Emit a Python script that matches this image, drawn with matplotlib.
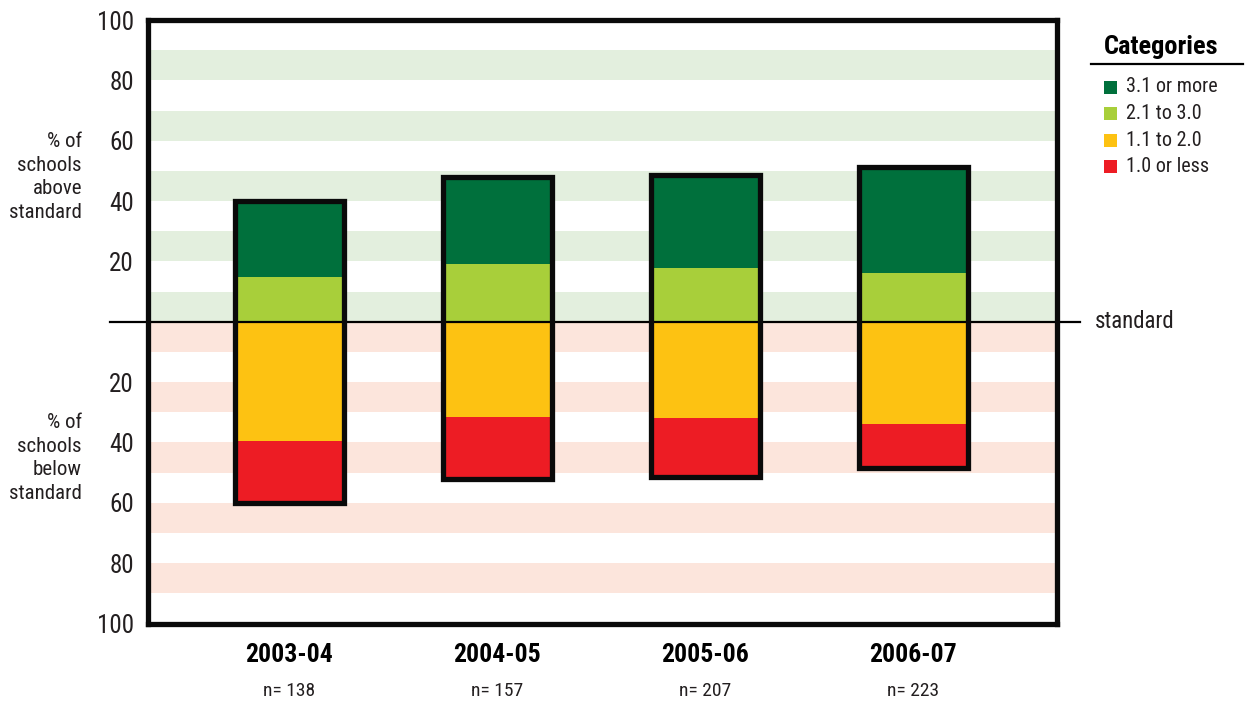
import matplotlib
matplotlib.use("Agg")
import matplotlib.pyplot as plt
from matplotlib import font_manager
from matplotlib.transforms import blended_transform_factory
from matplotlib.patches import Rectangle
import numpy as np

# --- data -------------------------------------------------------------
years = ["2003-04", "2004-05", "2005-06", "2006-07"]
n_schools = [138, 157, 207, 223]

# % of schools above standard
above_high = [25.2, 28.7, 30.9, 35.1]    # 3.1 or more
above_low = [14.8, 19.3, 17.7, 16.3]     # 2.1 to 3.0
# % of schools below standard
below_high = [39.6, 31.6, 31.9, 34.0]    # 1.1 to 2.0
below_low = [20.4, 20.4, 19.5, 14.6]     # 1.0 or less

category_labels = ["3.1 or more", "2.1 to 3.0", "1.1 to 2.0", "1.0 or less"]
category_colors = ["#00703C", "#A8CF3A", "#FDC212", "#ED1C24"]

tick_values = [100, 80, 60, 40, 20, -20, -40, -60, -80, -100]
tick_labels = ["100", "80", "60", "40", "20", "20", "40", "60", "80", "100"]

# --- fonts ------------------------------------------------------------
available = {f.name for f in font_manager.fontManager.ttflist}
family = "DejaVu Sans"
for cand in ["Liberation Sans Narrow", "Roboto Condensed", "Open Sans Condensed",
             "Roboto", "Liberation Sans"]:
    if cand in available:
        family = cand
        break
plt.rcParams["font.family"] = [family, "DejaVu Sans"]
TXT = "#231F20"

# --- figure -----------------------------------------------------------
fig = plt.figure(figsize=(12.5, 7.02), dpi=100)
ax = fig.add_axes([0.1184, 0.1118, 0.7272, 0.8597])
ax.set_xlim(-0.68, 3.69)
ax.set_ylim(-100, 100)

# background bands
for lo in range(0, 100, 20):
    ax.axhspan(lo, lo + 10, color="#E3EFDE", lw=0, zorder=0)
    ax.axhspan(-lo - 10, -lo, color="#FCE5DC", lw=0, zorder=0)

x = np.arange(len(years))
width = 0.52
ah = np.array(above_high)
al = np.array(above_low)
bh = np.array(below_high)
bl = np.array(below_low)

ax.bar(x, al, width, bottom=0, color=category_colors[1], lw=0, zorder=2)
ax.bar(x, ah, width, bottom=al, color=category_colors[0], lw=0, zorder=2)
ax.bar(x, -bh, width, bottom=0, color=category_colors[2], lw=0, zorder=2)
ax.bar(x, -bl, width, bottom=-bh, color=category_colors[3], lw=0, zorder=2)

# outline around each stacked column
for xi, top, bottom in zip(x, ah + al, bh + bl):
    ax.add_patch(Rectangle((xi - width / 2, -bottom), width, top + bottom,
                           fill=False, ec="#0A0A0A", lw=3.8, zorder=4))

# standard line extending past the frame
trans = blended_transform_factory(ax.transAxes, ax.transData)
ax.plot([-0.042, 1.025], [0, 0], color="black", lw=1.6, transform=trans,
        clip_on=False, zorder=3)
ax.text(1.042, 0, "standard", transform=trans, ha="left", va="center",
        fontsize=16.5, color=TXT)

# frame
for sp in ax.spines.values():
    sp.set_linewidth(3.8)
    sp.set_color("#0A0A0A")
    sp.set_zorder(5)

ax.set_yticks(tick_values)
ax.set_yticklabels(tick_labels, fontsize=18, color=TXT)
ax.tick_params(axis="y", length=0, pad=10)
ax.set_xticks(x)
ax.set_xticklabels(years, fontsize=18.5, fontweight="bold", color="black")
ax.tick_params(axis="x", length=0, pad=14)

xtrans = blended_transform_factory(ax.transData, ax.transAxes)
for xi, n in zip(x, n_schools):
    ax.text(xi, -0.112, f"n= {n}", transform=xtrans,
            ha="center", va="center", fontsize=14, color=TXT)

# side labels
fig.text(82 / 1250, (702 - 177) / 702, "% of\nschools\nabove\nstandard", ha="right",
         va="center", fontsize=15, color=TXT, linespacing=1.3)
fig.text(82 / 1250, (702 - 458) / 702, "% of\nschools\nbelow\nstandard", ha="right",
         va="center", fontsize=15, color=TXT, linespacing=1.3)

# legend
fig.text(1161 / 1250, (702 - 47) / 702, "Categories", ha="center", va="center",
         fontsize=19, fontweight="bold", color="black")
fig.add_artist(plt.Line2D([1091 / 1250, 1243 / 1250], [(702 - 64) / 702] * 2,
                          color="black", lw=1.6))
for i, (lab, col) in enumerate(zip(category_labels, category_colors)):
    yc = 87 + i * 26.6
    fig.add_artist(Rectangle((1104 / 1250, (702 - yc - 6.5) / 702), 13 / 1250, 13 / 702,
                             color=col, lw=0, transform=fig.transFigure))
    fig.text(1126 / 1250, (702 - yc) / 702, lab, ha="left", va="center",
             fontsize=14.5, color=TXT)

fig.savefig("out.png", dpi=100)
